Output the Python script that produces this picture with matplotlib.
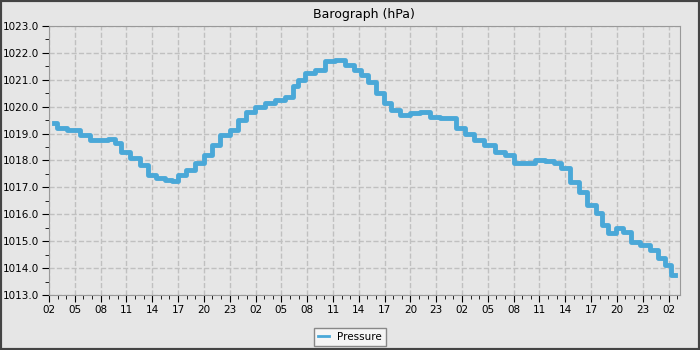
import numpy as np
import pandas as pd
import matplotlib
matplotlib.use("Agg")
import matplotlib.pyplot as plt
import matplotlib.dates as mdates
from matplotlib.ticker import MultipleLocator, FormatStrFormatter

# hours since the first 02:00 tick, and the pressure read at that time
hours = [0.6, 1.3, 3.0, 4.2, 5.3, 6.5, 7.3, 8.0, 8.8, 10.0, 11.1, 12.0, 12.9,
         14.0, 14.6, 15.4, 16.4, 17.5, 18.5, 19.3, 20.4, 21.6, 22.4, 23.3,
         24.5, 25.7, 26.8, 28.0, 28.6, 29.2, 30.3, 31.5, 32.6, 33.8, 35.0,
         35.9, 36.7, 37.5, 38.4, 39.4, 40.2, 41.3, 42.5, 43.7, 44.8, 46.0,
         46.8, 47.7, 48.9, 50.0, 51.2, 52.4, 53.5, 54.7, 55.9, 57.0, 58.2,
         59.1, 59.9, 61.1, 62.0, 63.1, 64.0, 64.6, 65.4, 66.3, 67.2, 68.1,
         69.2, 70.4, 71.2, 71.9, 72.7]
pressure = [1019.40, 1019.20, 1019.13, 1018.95, 1018.76, 1018.76, 1018.80,
            1018.65, 1018.30, 1018.10, 1017.83, 1017.46, 1017.35, 1017.28,
            1017.24, 1017.46, 1017.65, 1017.90, 1018.20, 1018.58, 1018.95,
            1019.13, 1019.50, 1019.80, 1020.00, 1020.14, 1020.25, 1020.36,
            1020.77, 1021.00, 1021.25, 1021.36, 1021.70, 1021.74, 1021.55,
            1021.36, 1021.18, 1020.92, 1020.50, 1020.14, 1019.88, 1019.70,
            1019.77, 1019.80, 1019.60, 1019.58, 1019.58, 1019.20, 1019.00,
            1018.76, 1018.58, 1018.30, 1018.20, 1017.90, 1017.90, 1018.00,
            1017.98, 1017.90, 1017.72, 1017.20, 1016.83, 1016.35, 1016.05,
            1015.60, 1015.30, 1015.50, 1015.34, 1014.97, 1014.86, 1014.67,
            1014.38, 1014.10, 1013.74]

start = pd.Timestamp("2024-01-01 02:00")
times = [start + pd.Timedelta(hours=h) for h in hours]

bg = "#e6e6e6"
fig = plt.figure(figsize=(7, 3.5), dpi=100, facecolor=bg)
fig.patches.append(plt.Rectangle((0, 0), 1, 1, transform=fig.transFigure,
                                 fill=False, edgecolor="#444444", linewidth=3))
ax = fig.add_axes([0.07, 0.157, 0.901, 0.769], facecolor=bg)

ax.plot(times, pressure, color="#4aa8d8", linewidth=3.5, drawstyle="steps-mid",
        label="Pressure")

ax.set_xlim(start, start + pd.Timedelta(hours=73.3))
ax.set_ylim(1013, 1023)
ax.xaxis.set_major_locator(mdates.HourLocator(byhour=range(2, 24, 3)))
ax.xaxis.set_minor_locator(mdates.HourLocator())
ax.xaxis.set_major_formatter(mdates.DateFormatter("%H"))
ax.yaxis.set_major_locator(MultipleLocator(1))
ax.yaxis.set_minor_locator(MultipleLocator(0.5))
ax.yaxis.set_major_formatter(FormatStrFormatter("%.1f"))

ax.tick_params(which="both", direction="out", labelsize=7.5, color="black", pad=2)
ax.tick_params(which="major", length=5)
ax.tick_params(which="minor", length=3)
for s in ax.spines.values():
    s.set_color("#999999")
ax.grid(True, which="major", color="#c0c0c0", linestyle="--", linewidth=1)

ax.set_title("Barograph (hPa)", fontsize=9, pad=6)
leg = fig.legend(loc="center", bbox_to_anchor=(0.5, 0.037), fontsize=7.5,
                 fancybox=False, facecolor="#f5f5f5", edgecolor="#888888",
                 framealpha=1, handlelength=1)
for h in leg.get_lines():
    h.set_linewidth(2)

fig.savefig("out.png", dpi=100, facecolor=bg)
